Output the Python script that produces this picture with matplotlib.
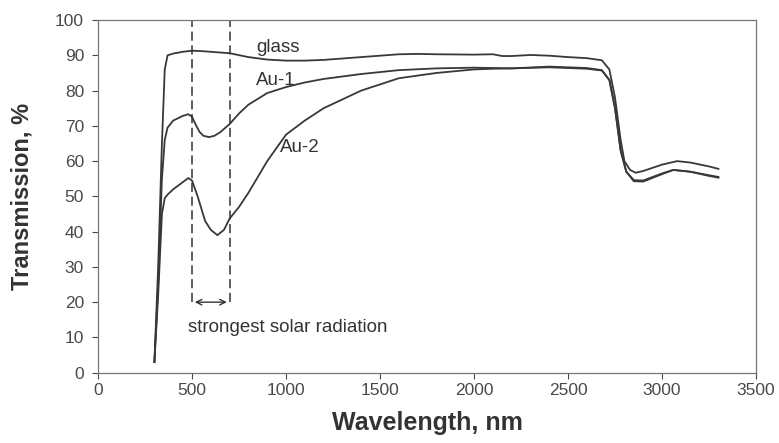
import numpy as np
import matplotlib
matplotlib.use('Agg')
import matplotlib.pyplot as plt

plt.rcParams['font.family'] = ['Liberation Sans', 'DejaVu Sans']

# transmission spectra
wl_glass = [300, 320, 340, 355, 370, 400, 450, 500, 550, 600, 700, 800, 900, 1000,
            1100, 1200, 1400, 1600, 1700, 1800, 2000, 2100, 2150, 2200, 2300, 2400,
            2500, 2600, 2680, 2720, 2750, 2780, 2800, 2830, 2860, 2900, 3000, 3080,
            3150, 3250, 3300]
t_glass = [3, 30, 65, 86, 90, 90.5, 91, 91.3, 91.2, 91, 90.6, 89.5, 88.8, 88.5,
           88.5, 88.7, 89.5, 90.3, 90.4, 90.3, 90.2, 90.3, 89.8, 89.8, 90.1, 89.9,
           89.5, 89.2, 88.6, 86, 78, 66, 60, 57.5, 56.7, 57.2, 59, 60,
           59.6, 58.5, 57.8]

wl_au1 = [300, 320, 340, 355, 370, 400, 450, 480, 500, 520, 540, 560, 590, 620, 650,
          700, 750, 800, 900, 1000, 1100, 1200, 1400, 1600, 1800, 2000, 2200, 2400,
          2600, 2680, 2720, 2750, 2780, 2810, 2850, 2900, 3000, 3060, 3150, 3250, 3300]
t_au1 = [3, 25, 55, 66, 69.5, 71.5, 72.8, 73.3, 72.6, 70.3, 68.3, 67.2, 66.8, 67.2,
         68.2, 70.5, 73.5, 76, 79.3, 81, 82.3, 83.3, 84.7, 85.8, 86.3, 86.5, 86.3,
         86.8, 86.4, 85.8, 83, 75, 63, 57, 54.6, 54.5, 56.5, 57.5, 57, 56, 55.5]

wl_au2 = [300, 320, 340, 355, 370, 400, 450, 480, 500, 530, 570, 600, 635, 670, 700,
          750, 800, 900, 1000, 1100, 1200, 1300, 1400, 1600, 1800, 2000, 2100, 2200,
          2400, 2600, 2680, 2720, 2750, 2780, 2810, 2850, 2900, 3000, 3060, 3150,
          3250, 3300]
t_au2 = [3, 22, 45, 49.5, 50.5, 52, 54, 55.2, 54.5, 50, 43, 40.5, 39, 40.5, 43.7,
         47, 51, 60, 67.5, 71.5, 75, 77.5, 80, 83.5, 85, 86, 86.2, 86.3,
         86.6, 86.2, 85.7, 83, 75, 63, 57, 54.3, 54.2, 56.3, 57.5, 57,
         55.8, 55.3]

band = [500, 700]  # strongest solar radiation

fig = plt.figure(figsize=(7.79, 4.43), dpi=100)
ax = fig.add_axes([0.1258, 0.1587, 0.8447, 0.796])

lc = '#383838'
ax.plot(wl_glass, t_glass, color=lc, lw=1.3)
ax.plot(wl_au1, t_au1, color=lc, lw=1.3)
ax.plot(wl_au2, t_au2, color=lc, lw=1.3)

for b in band:
    ax.plot([b, b], [20, 100], color='#333333', lw=1.1, ls=(0, (6, 3)))
ax.annotate('', xy=(band[0], 20), xytext=(band[1], 20),
            arrowprops=dict(arrowstyle='<->', color='#333333', lw=1.0))

ax.text(960, 92.2, 'glass', fontsize=13.5, color='#333333', ha='center', va='center')
ax.text(945, 83, 'Au-1', fontsize=13.5, color='#333333', ha='center', va='center')
ax.text(1075, 64, 'Au-2', fontsize=13.5, color='#333333', ha='center', va='center')
ax.text(1010, 12.7, 'strongest solar radiation', fontsize=13.5, color='#333333',
        ha='center', va='center')

ax.set_xlim(0, 3500)
ax.set_ylim(0, 100)
ax.set_xticks(np.arange(0, 3501, 500))
ax.set_yticks(np.arange(0, 101, 10))
ax.tick_params(labelsize=12.5, colors='#4a4a4a', length=4, width=0.8)
ax.tick_params(axis='y', pad=6)
for s in ax.spines.values():
    s.set_color('#777777')
    s.set_linewidth(0.9)

ax.set_xlabel('Wavelength, nm', fontsize=18, fontweight='bold', color='#333333')
ax.set_ylabel('Transmission, %', fontsize=17, fontweight='bold', color='#333333')
ax.xaxis.set_label_coords(0.5, -38 / 353.0)
ax.yaxis.set_label_coords(-64 / 658.0, 0.5)

fig.savefig('out.png', dpi=100)
